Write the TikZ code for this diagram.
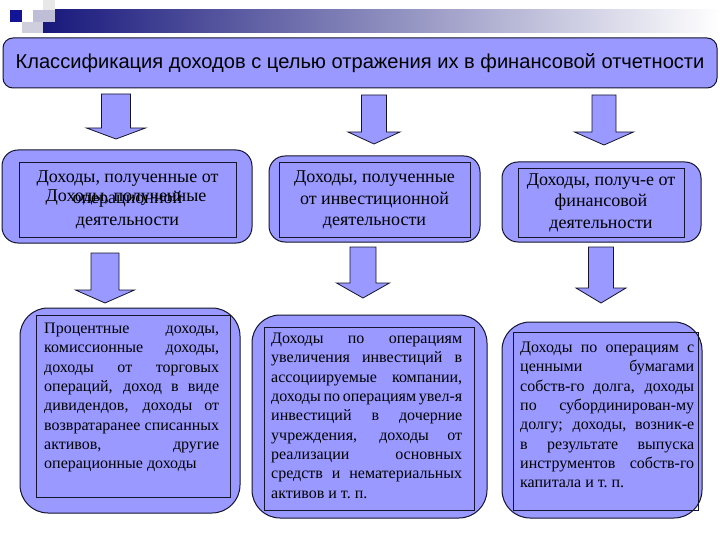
\documentclass[tikz,border=0pt]{standalone}
\usepackage{fontspec}
\setmainfont{Liberation Serif}
\newfontfamily\titlefont{Liberation Sans}
\usetikzlibrary{positioning, calc}

\definecolor{boxblue}{RGB}{153,153,255}
\definecolor{navybar}{RGB}{24,24,124}
\definecolor{barmid}{RGB}{168,168,196}
\definecolor{sqlav}{RGB}{190,190,214}
\definecolor{sqgray}{RGB}{206,206,220}
\definecolor{sqnavy}{RGB}{20,20,150}
\definecolor{edgeclr}{RGB}{20,20,45}

\newcommand{\nobreakhyph}{\exhyphenpenalty=10000\relax\hyphenpenalty=10000\relax}

\tikzset{
    outerbox/.style={draw=edgeclr, fill=boxblue, line width=1pt, rounded corners=#1, inner sep=0pt},
    outerbox/.default=15pt,
    innerbox/.style={draw=edgeclr, line width=0.8pt, inner sep=0pt},
    headtext/.style={align=center, font=\fontsize{18}{21.5}\selectfont},
    desctext/.style={anchor=north west, inner sep=0pt, align=justify,
        font=\fontsize{16}{19.3}\selectfont\nobreakhyph},
    blockarrow/.style={draw=edgeclr, fill=boxblue, line width=0.8pt, line join=miter}
}

% block arrow: top, tip, shaft half width, head half width, head length
\newcommand{\blockdown}[5]{%
    \draw[blockarrow] let \p1=(#1), \p2=(#2) in
        (\x1-#3pt,\y1) -- (\x1+#3pt,\y1) -- (\x1+#3pt,\y2+#5pt) -- (\x1+#4pt,\y2+#5pt)
        -- (\x1,\y2) -- (\x1-#4pt,\y2+#5pt) -- (\x1-#3pt,\y2+#5pt) -- cycle;}

\begin{document}
\begin{tikzpicture}[x=1pt, y=-1pt]
    \useasboundingbox (0,0) rectangle (720,540);

    % header strip
    \shade[left color=navybar, middle color=barmid, right color=white]
        (43,10) rectangle (720,33);
    \fill[gray!18] (43,0) rectangle (55,10);
    \fill[sqlav] (33,10) rectangle (55,22);
    \fill[sqgray] (22,22) rectangle (43,33);
    \fill[sqnavy] (10,10) rectangle (22,22);

    % title
    \node[outerbox=10pt, minimum width=714pt, minimum height=50pt] (title) at (360,63)
        {\titlefont\fontsize{20.1}{24}\selectfont Классификация доходов с целью отражения их в финансовой отчетности};

    % second row
    \node[outerbox=16pt, minimum width=250pt, minimum height=93pt] (opbox) at (127,196.5) {};
    \node[innerbox, headtext, minimum width=217pt, minimum height=75pt] (optext) at (127.5,199.5)
        {Доходы, полученные от\\операционной\\деятельности};
    \node[headtext, anchor=base] (opover) at (126,202) {Доходы, полученные};

    \node[outerbox=16pt, minimum width=211pt, minimum height=86pt] (invbox) at (374.5,199) {};
    \node[innerbox, headtext, minimum width=191pt, minimum height=75pt] (invtext) at (374.5,200)
        {Доходы, полученные\\от инвестиционной\\деятельности};

    \node[outerbox=16pt, minimum width=199pt, minimum height=80pt] (finbox) at (601.5,202) {};
    \node[innerbox, headtext, minimum width=166pt, minimum height=69pt] (fintext) at (601,202.5)
        {Доходы, получ-е от\\финансовой\\деятельности};

    % third row
    \node[outerbox=28pt, minimum width=220pt, minimum height=205pt] (opdbox) at (130,410.5) {};
    \node[innerbox, minimum width=194pt, minimum height=182pt] (opdrect) at (133,406) {};
    \node[desctext, text width=175pt] (opdtext) at (44,323)
        {Процентные доходы,\linebreak комиссионные доходы,\linebreak доходы от торговых\linebreak
         операций, доход в виде\linebreak дивидендов, доходы от\linebreak
         возвратаранее списанных\linebreak активов, другие\linebreak операционные доходы};

    \node[outerbox=28pt, minimum width=235pt, minimum height=203pt] (invdbox) at (369.5,416.5) {};
    \node[innerbox, minimum width=210pt, minimum height=183pt] (invdrect) at (369,418.5) {};
    \node[desctext, text width=191pt] (invdtext) at (271,333)
        {Доходы по операциям\linebreak увеличения инвестиций в\linebreak ассоциируемые компании,\linebreak
         доходы по операциям увел-я\linebreak инвестиций в дочерние\linebreak
         учреждения, доходы от\linebreak реализации основных\linebreak
         средств и нематериальных\linebreak активов и т.~п.};

    \node[outerbox=28pt, minimum width=200pt, minimum height=196pt] (findbox) at (602,420) {};
    \node[innerbox, minimum width=185pt, minimum height=178pt] (findrect) at (605.5,421) {};
    \node[desctext, text width=174pt] (findtext) at (520,342)
        {Доходы по операциям с\linebreak ценными бумагами\linebreak собств-го долга, доходы\linebreak
         по субординирован-му\linebreak долгу; доходы, возник-е\linebreak
         в результате выпуска\linebreak инструментов собств-го\linebreak капитала и т.~п.};

    % arrows title -> second row
    \coordinate (t1) at (116,94);   \coordinate (h1) at (116,139);
    \coordinate (t2) at (374,95);   \coordinate (h2) at (374,144);
    \coordinate (t3) at (604,95);   \coordinate (h3) at (604,145);
    \blockdown{t1}{h1}{14.5}{29.5}{11}
    \blockdown{t2}{h2}{12.5}{26}{12}
    \blockdown{t3}{h3}{12}{29.5}{13}

    % arrows second row -> third row
    \coordinate (t4) at (105,253);  \coordinate (h4) at (105,303);
    \coordinate (t5) at (363,247);  \coordinate (h5) at (363,298);
    \coordinate (t6) at (601,247);  \coordinate (h6) at (601,303);
    \blockdown{t4}{h4}{14}{29.5}{13}
    \blockdown{t5}{h5}{13}{26.5}{15}
    \blockdown{t6}{h6}{12.5}{25}{15}
\end{tikzpicture}
\end{document}
